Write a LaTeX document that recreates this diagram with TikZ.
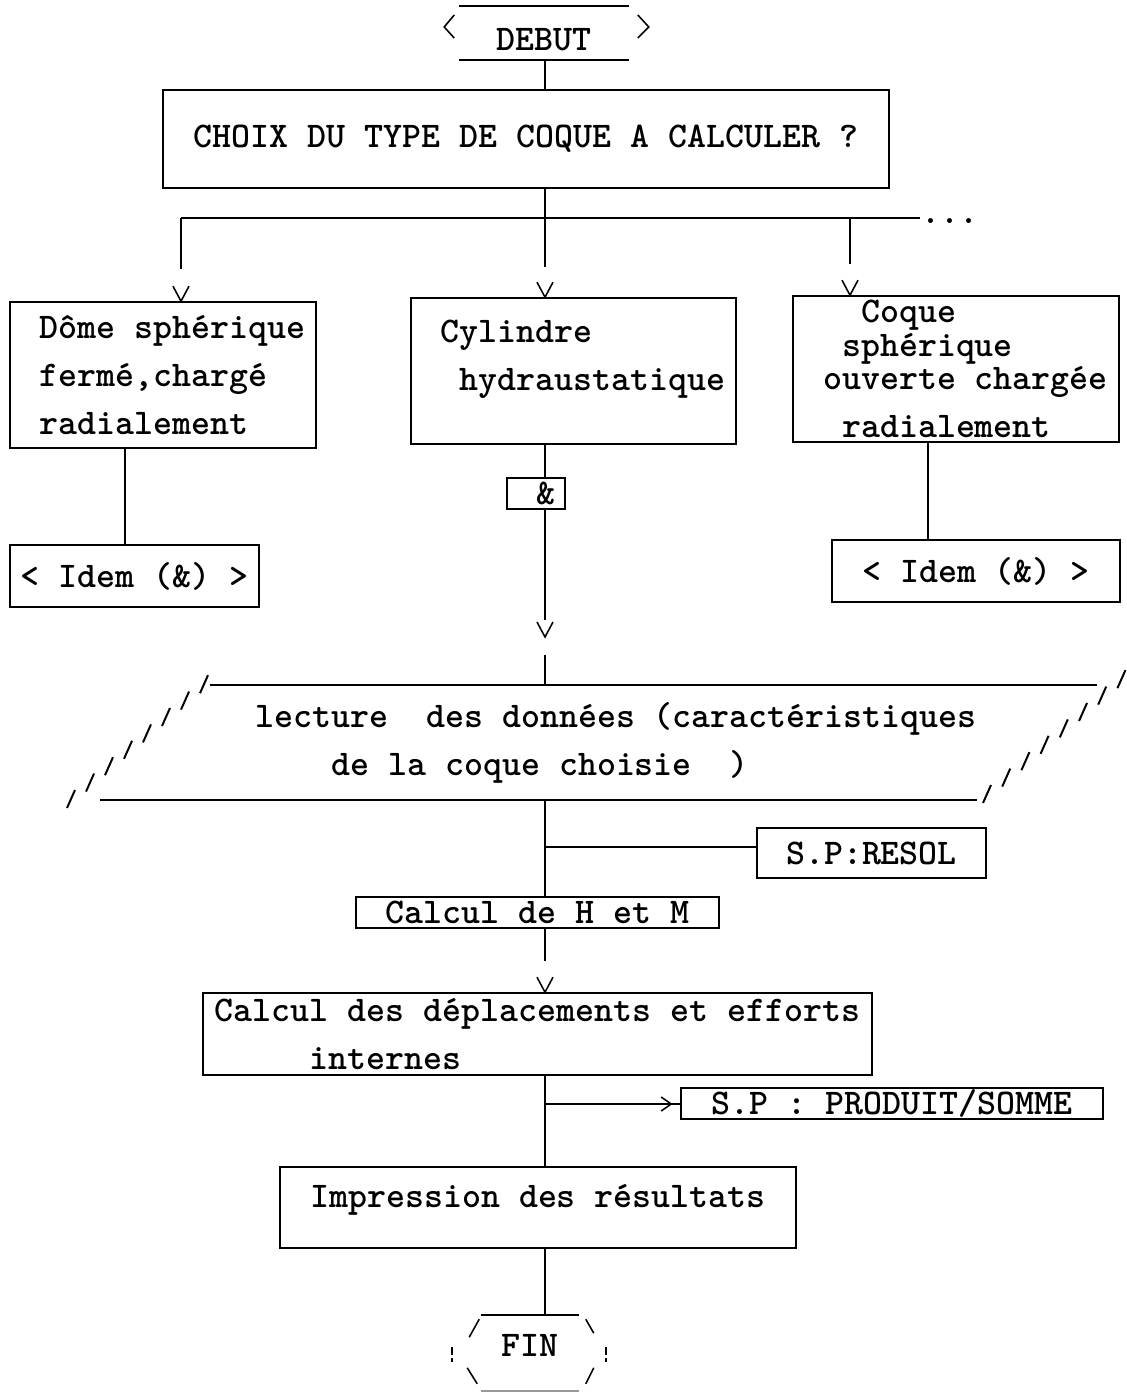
\documentclass[tikz,border=0pt]{standalone}
\usepackage{fontspec}
\usepackage{tikz}

\tikzset{
	txt/.style={font=\ttfamily\bfseries\fontsize{25.7}{34}\selectfont, inner sep=0pt},
	boite/.style={draw, txt},
	hachure/.style={line width=1.4pt},
	vtip/.pic={\draw (-8,-15) -- (0,0) -- (8,-15);},
	htip/.pic={\draw (-10,-7) -- (0,0) -- (-10,7);},
}

\begin{document}
\begin{tikzpicture}[x=0.025cm, y=-0.025cm, line width=1.1pt]
	\useasboundingbox (0,0) rectangle (1126,1392);
	\coordinate (axe) at (545,0);
	\coordinate (g) at (125,0);
	\coordinate (d) at (928,0);
	%
	\node[txt, minimum width=4.2cm, minimum height=1.3cm, text height=0.9cm] (debut) at (544,33) {DEBUT};
	\draw (debut.north west) -- (debut.north east);
	\draw (debut.south west) -- (debut.south east);
	\draw ([shift={(-5,-18)}]debut.west) -- ([shift={(-15,-6)}]debut.west) -- ([shift={(-5,5)}]debut.west);
	\draw ([shift={(9,-18)}]debut.east) -- ([shift={(20,-6)}]debut.east) -- ([shift={(9,5)}]debut.east);
	%
	\node[boite, minimum width=18.15cm, minimum height=2.45cm] (choix) at (526,139) {CHOIX DU TYPE DE COQUE A CALCULER ?};
	\draw (debut.south -| axe) -- (choix.north -| axe);
	%
	\coordinate (b1) at (181,218);
	\coordinate (b2) at (545,218);
	\coordinate (b3) at (850,218);
	\coordinate (bfin) at (920,218);
	\draw (choix.south -| axe) -- (b2);
	\draw (b1) -- (bfin);
	\node[txt, anchor=base] (suite) at (950,224) {...};
	%
	\node[boite, minimum width=7.65cm, minimum height=3.65cm, align=left] (dome) at (163,375) {~Dôme sphérique\\~fermé,chargé\\~radialement};
	\node[boite, minimum width=8.125cm, minimum height=3.65cm, align=left] (cyl) at (573.5,371) {~Cylindre\\~~hydraustatique\\[-0.4cm]\mbox{}};
	\node[boite, minimum width=8.15cm, minimum height=3.65cm, align=left] (coque) at (956,369) {~~~Coque\\[-0.36cm]~~sphérique\\[-0.36cm]~ouverte chargée\\~~radialement};
	%
	\draw[shorten >=0.8cm] (b1) -- (b1 |- dome.north);
	\pic at (b1 |- dome.north) {vtip};
	\draw[shorten >=0.75cm] (b2) -- (b2 |- cyl.north);
	\pic at (b2 |- cyl.north) {vtip};
	\draw[shorten >=0.775cm] (b3) -- (b3 |- coque.north);
	\pic at (b3 |- coque.north) {vtip};
	%
	\node[boite, minimum width=6.225cm, minimum height=1.55cm] (idem1) at (134.5,576) {< Idem (\&) >};
	\node[boite, minimum width=7.2cm, minimum height=1.55cm] (idem2) at (976,571) {< Idem (\&) >};
	\draw (dome.south -| g) -- (idem1.north -| g);
	\draw (coque.south -| d) -- (idem2.north -| d);
	%
	\node[boite, minimum width=1.45cm, minimum height=0.775cm] (amp) at (536,493.5) {~\&};
	\draw (cyl.south -| axe) -- (amp.north -| axe);
	%
	\node[txt, align=left, minimum height=2.875cm] (lecture) at (616,742.5) {lecture~~des données (caractéristiques\\~~~~de la coque choisie~~)};
	\draw (210,685) -- (1097,685);
	\draw (100,800) -- (977,800);
	\foreach \i in {0,...,7} {
		\draw[hachure] ({67+19*\i},{808-16.4*\i}) -- ++(8,-18);
		\draw[hachure] ({983+19.2*\i},{803-16.4*\i}) -- ++(8,-18);
	}
	%
	\coordinate (vmid) at (545,637);
	\draw[shorten >=0.425cm] (amp.south -| axe) -- (vmid);
	\pic at (vmid) {vtip};
	\draw[shorten <=0.45cm] (vmid) -- (lecture.north -| axe);
	%
	\node[boite, minimum width=5.725cm, minimum height=1.25cm] (resol) at (871.5,853) {S.P:RESOL};
	\node[boite, minimum width=9.075cm, minimum height=0.775cm] (calc) at (537.5,912.5) {Calcul de H et M};
	\coordinate (jr) at (545,847);
	\draw (lecture.south -| axe) -- (calc.north -| axe);
	\draw (jr) -- (jr -| resol.west);
	%
	\node[boite, minimum width=16.725cm, minimum height=2.05cm, align=left] (depl) at (537.5,1034) {Calcul des déplacements et efforts\\~~~~~internes};
	\draw[shorten >=0.775cm] (calc.south -| axe) -- (depl.north -| axe);
	\pic at (depl.north -| axe) {vtip};
	%
	\node[boite, minimum width=10.55cm, minimum height=0.775cm] (prod) at (892,1103.5) {S.P : PRODUIT/SOMME};
	\node[boite, minimum width=12.9cm, minimum height=2.025cm, text depth=0.55cm] (impr) at (538,1207.5) {Impression des résultats};
	\coordinate (jp) at (545,1104);
	\coordinate (jpb) at (jp -| prod.west);
	\draw (depl.south -| axe) -- (impr.north -| axe);
	\draw (jp) -- (jpb);
	\pic at ([xshift=-0.225cm]jpb) {htip};
	%
	\node[txt, minimum width=2.425cm, minimum height=1.85cm, text depth=0.4cm] (fin) at (530,1353) {FIN};
	\draw (impr.south -| axe) -- (fin.north -| axe);
	\draw (fin.north west) -- (fin.north east);
	\draw ([shift={(-11.5,22)}]fin.north west) -- ([shift={(-1.5,4)}]fin.north west);
	\draw ([shift={(6.5,4)}]fin.north east) -- ([shift={(14.5,18)}]fin.north east);
	\draw[dash pattern=on 6pt off 2pt] ([shift={(-28.5,-6)}]fin.west) -- ([shift={(-28.5,9)}]fin.west);
	\draw[dash pattern=on 6pt off 2pt] ([shift={(26.5,-6)}]fin.east) -- ([shift={(26.5,9)}]fin.east);
	\draw ([shift={(-13.5,-23)}]fin.south west) -- ([shift={(-3.5,-7)}]fin.south west);
	\draw ([shift={(14.5,-23)}]fin.south east) -- ([shift={(6.5,-7)}]fin.south east);
	\draw[black!40] (fin.south west) -- (fin.south east);
\end{tikzpicture}
\end{document}
